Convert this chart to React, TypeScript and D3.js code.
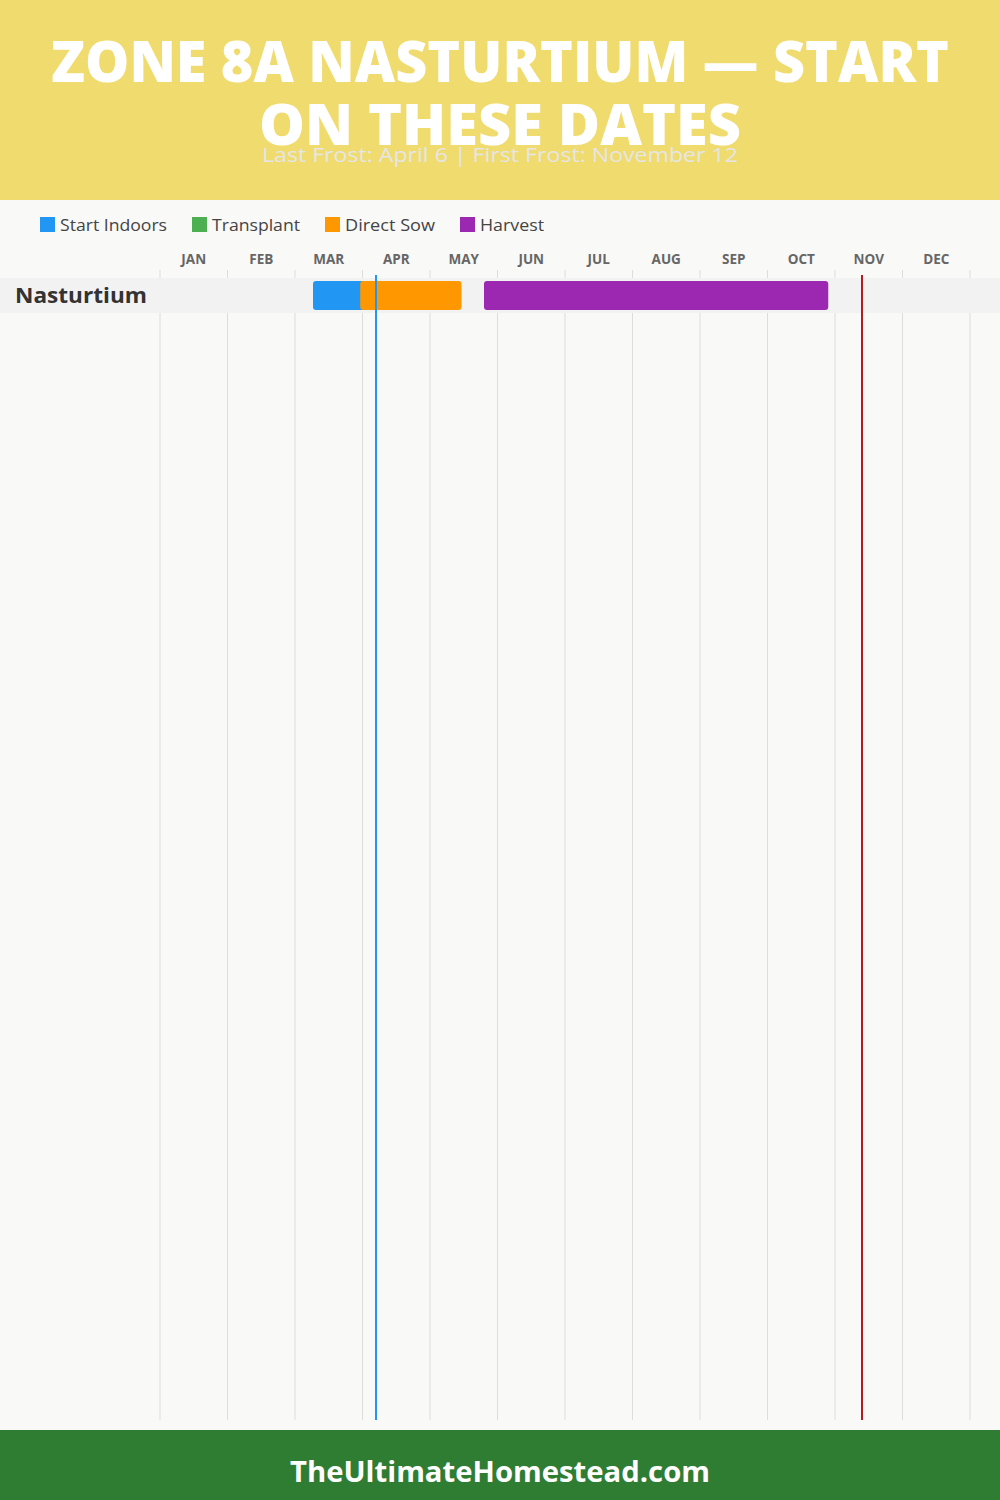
import React from 'react';
import * as d3 from 'd3';

const titleLines = ['ZONE 8A NASTURTIUM — START', 'ON THESE DATES'];
const subtitle = 'Last Frost: April 6 | First Frost: November 12';
const footerText = 'TheUltimateHomestead.com';
const months = ['JAN', 'FEB', 'MAR', 'APR', 'MAY', 'JUN', 'JUL', 'AUG', 'SEP', 'OCT', 'NOV', 'DEC'];
const legendNames = ['Start Indoors', 'Transplant', 'Direct Sow', 'Harvest'];
const legendColors = ['#2196F3', '#4CAF50', '#FF9800', '#9C27B0'];
const crops = ['Nasturtium'];
// [crop, activity, startMonth(1-12), startDay, endMonth, endDay]
const segments: [string, string, number, number, number, number][] = [
  ['Nasturtium', 'Start Indoors', 3, 8, 4, 6],
  ['Nasturtium', 'Direct Sow', 3, 29, 5, 14],
  ['Nasturtium', 'Harvest', 5, 24, 10, 27],
];
const lastFrost: [number, number] = [4, 6];
const firstFrost: [number, number] = [11, 12];

const W = 1000;
const H = 1500;
const FONT = "'Open Sans', 'DejaVu Sans', sans-serif";

const toMonths = (m: number, d: number) => m - 1 + d / 30;

export default function App() {
  const x = d3.scaleLinear().domain([0, 12]).range([160, 970]);
  const y = d3.scaleBand<string>().domain(crops).range([278, 278 + 35 * crops.length]).padding(0);
  const color = d3.scaleOrdinal<string, string>().domain(legendNames).range(legendColors);
  const legendX = [40, 192, 325, 460];
  const legendLen = [107, 88, 90, 64];
  const monthW = x(1) - x(0);

  return (
    <div style={{ position: 'absolute', left: 0, top: 0, width: W, height: H }}>
      <svg width={W} height={H} style={{ display: 'block' }}>
        <rect x={0} y={0} width={W} height={H} fill="#F9F9F7" />
        <rect x={0} y={0} width={W} height={200} fill="#F0DB6E" />
        <text x={500} y={82} textAnchor="middle" fill="#fff" fontFamily={FONT} fontWeight={800} fontSize={56}
          textLength={898} lengthAdjust="spacingAndGlyphs">{titleLines[0]}</text>
        <text x={500} y={145} textAnchor="middle" fill="#fff" fontFamily={FONT} fontWeight={800} fontSize={56}
          textLength={482} lengthAdjust="spacingAndGlyphs">{titleLines[1]}</text>
        <text x={500} y={162} textAnchor="middle" fill="#E6E6E6" fontFamily={FONT} fontWeight={400} fontSize={20}
          textLength={476} lengthAdjust="spacingAndGlyphs">{subtitle}</text>

        {legendNames.map((n, i) => (
          <g key={n}>
            <rect x={legendX[i]} y={217} width={15} height={15} fill={color(n)} />
            <text x={legendX[i] + 20} y={231} fill="#444" fontFamily={FONT} fontSize={16}
              textLength={legendLen[i]} lengthAdjust="spacingAndGlyphs">{n}</text>
          </g>
        ))}

        {months.map((m, i) => (
          <text key={m} x={x(i) + monthW / 2} y={264} textAnchor="middle" fill="#666" fontFamily={FONT}
            fontWeight={700} fontSize={13.5}>{m}</text>
        ))}

        {d3.range(13).map((i) => (
          <line key={i} x1={x(i)} x2={x(i)} y1={270} y2={1420} stroke="#DDDDDD" strokeWidth={1} />
        ))}

        {crops.map((c) => (
          <g key={c}>
            <rect x={0} y={y(c)!} width={W} height={y.bandwidth()} fill="#F2F2F2" />
            <text x={15} y={y(c)! + 25} fill="#333" fontFamily={FONT} fontWeight={700} fontSize={21}
              textLength={132} lengthAdjust="spacingAndGlyphs">{c}</text>
          </g>
        ))}

        {segments.map(([c, act, sm, sd, em, ed], i) => {
          const x0 = x(toMonths(sm, sd));
          const x1 = x(toMonths(em, ed));
          return (
            <rect key={i} x={x0} y={y(c)! + 3} width={x1 - x0} height={y.bandwidth() - 6} rx={3}
              fill={color(act)} />
          );
        })}

        <line x1={x(toMonths(...lastFrost))} x2={x(toMonths(...lastFrost))} y1={275} y2={1420}
          stroke="#2196F3" strokeWidth={2} />
        <line x1={x(toMonths(...firstFrost))} x2={x(toMonths(...firstFrost))} y1={275} y2={1420}
          stroke="#B71C1C" strokeWidth={2} />

        <rect x={0} y={1430} width={W} height={70} fill="#2E7D32" />
        <text x={500} y={1482} textAnchor="middle" fill="#fff" fontFamily={FONT} fontWeight={700} fontSize={29}
          textLength={420} lengthAdjust="spacingAndGlyphs">{footerText}</text>
      </svg>
    </div>
  );
}
